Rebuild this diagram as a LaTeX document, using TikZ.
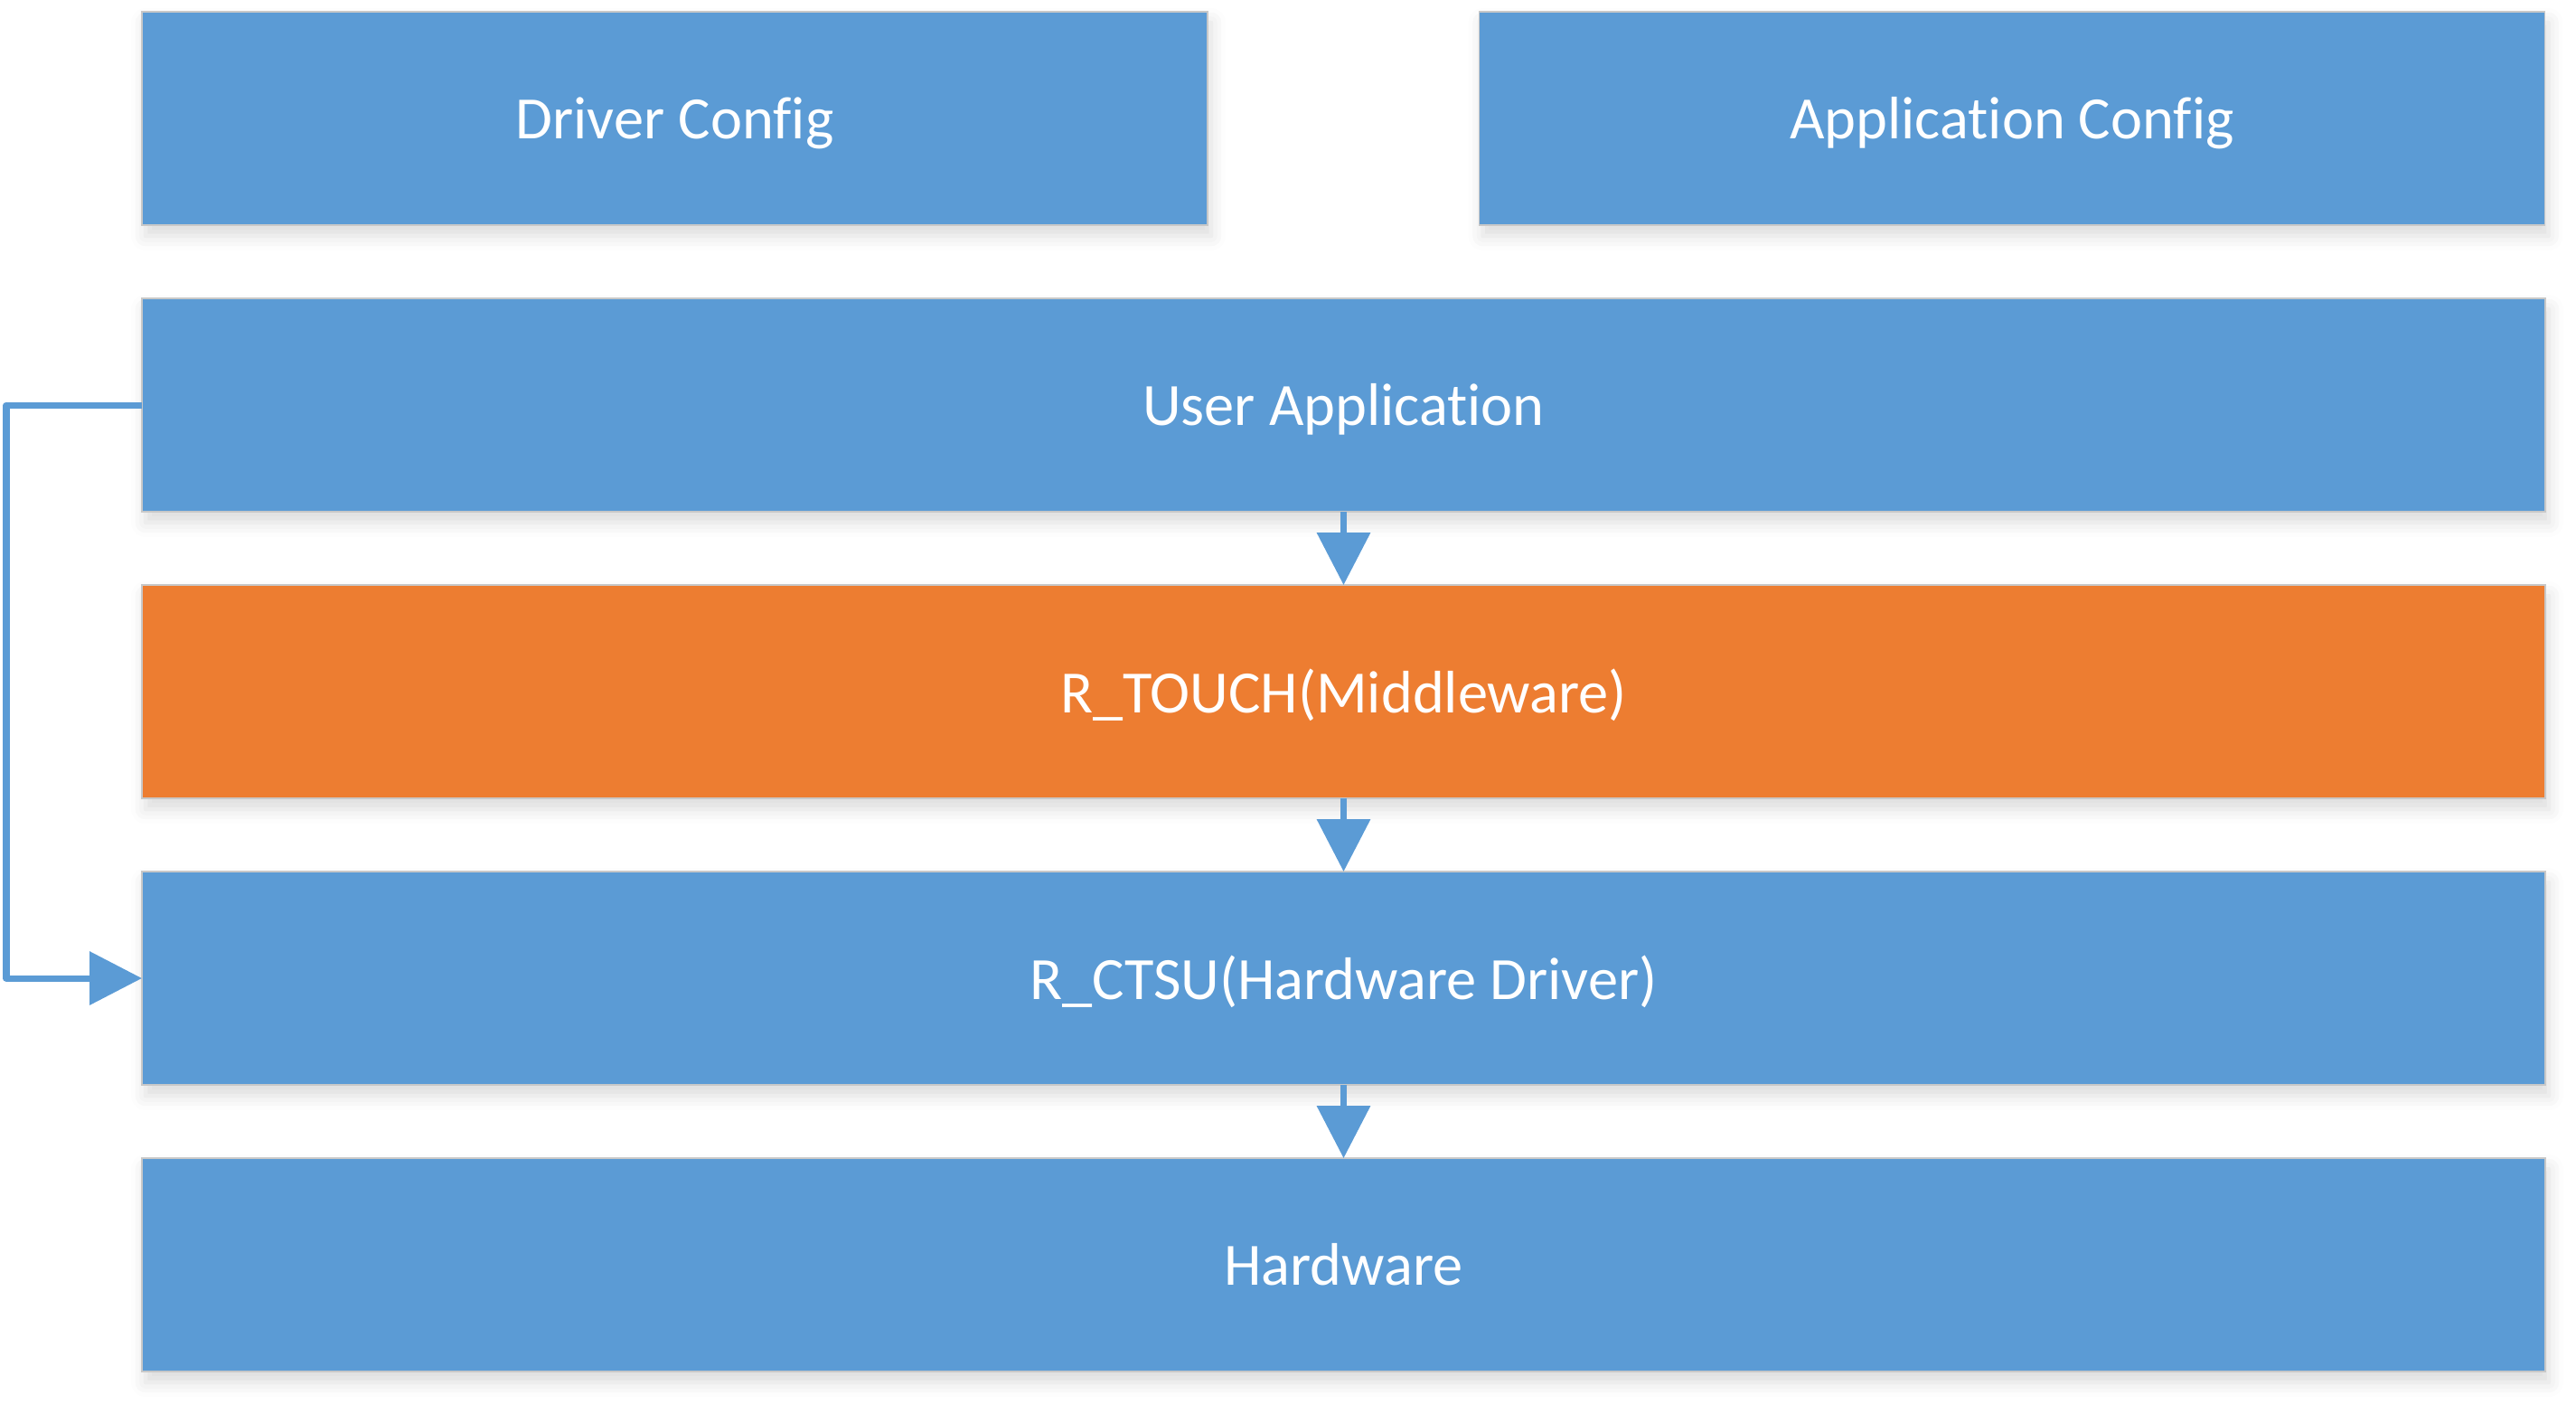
\documentclass[tikz,border=0pt]{standalone}
\usepackage{fontspec}
\setmainfont{Carlito}[Ligatures=NoCommon]
\usetikzlibrary{positioning,arrows.meta,shadows.blur}

\definecolor{layerblue}{HTML}{5B9BD5}
\definecolor{layerorange}{HTML}{ED7D31}
\definecolor{layeredge}{HTML}{C8C8C8}

\tikzset{
	layer/.style={draw=layeredge,line width=0.4pt,fill=layerblue,text=white,font=\fontsize{18.9}{22}\selectfont,
		minimum height=2.36cm,inner sep=0pt,outer sep=0pt,text depth=0.1ex,
		blur shadow={shadow xshift=0.4mm,shadow yshift=-1.2mm,shadow blur radius=1.6mm,shadow opacity=14}},
	widelayer/.style={layer,minimum width=26.59cm},
	halflayer/.style={layer,minimum width=11.79cm},
	flow/.style={draw=layerblue,line width=2pt,line join=round,-{Triangle[length=5.8mm,width=5.8mm]}}
}

\begin{document}
\begin{tikzpicture}
			\useasboundingbox (0,0) rectangle (28.5,-15.63);
			\node[halflayer] (drvcfg) at (7.465,-1.31) {Driver Config};
			\node[halflayer] (appcfg) at (22.26,-1.31) {Application Config};
			\node[widelayer] (userapp) at (14.865,-4.48) {User Application};
			\node[widelayer,fill=layerorange,below=0.81cm of userapp] (rtouch) {R\_TOUCH(Middleware)};
			\node[widelayer,below=0.81cm of rtouch] (rctsu) {R\_CTSU(Hardware Driver)};
			\node[widelayer,below=0.81cm of rctsu] (hw) {Hardware};
			
			\draw[flow] (userapp) -- (rtouch);
			\draw[flow] (rtouch) -- (rctsu);
			\draw[flow] (rctsu) -- (hw);
			\draw[flow] (userapp.west) -- ++(-1.5,0) |- (rctsu.west);
		\end{tikzpicture}
\end{document}
